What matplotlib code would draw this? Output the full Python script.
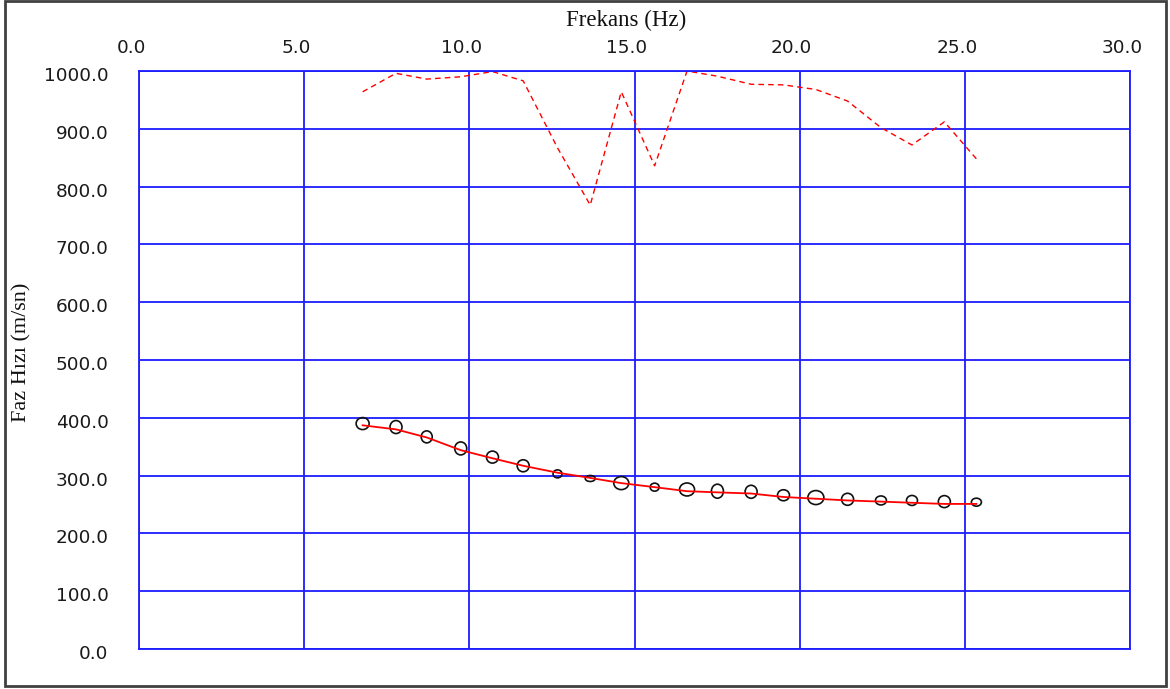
import matplotlib
matplotlib.use("Agg")
import matplotlib.pyplot as plt
from matplotlib.collections import EllipseCollection
from matplotlib.patches import Rectangle
from matplotlib.ticker import FormatStrFormatter, MultipleLocator
import matplotlib.transforms as mtransforms
import numpy as np

# Frequencies (Hz) of the picked dispersion points
freq = [6.77, 7.78, 8.71, 9.74, 10.70, 11.63, 12.67, 13.66, 14.60, 15.61,
        16.59, 17.51, 18.53, 19.51, 20.49, 21.45, 22.46, 23.40, 24.38, 25.35]

# Picked phase velocities (m/s)
picked_vel = [390, 384, 367, 347, 332, 317, 303, 295, 287, 280,
              276, 273, 272, 266, 262, 259, 257, 257, 255, 254]

# Fitted (model) phase velocity curve (m/s)
fit_vel = [387, 380, 366, 344, 330, 317, 305, 296, 287, 280,
           273, 271, 269, 263, 260, 257, 255, 253, 251, 251]

# Upper dashed curve (m/s)
upper_vel = [964, 996, 986, 990, 999, 983, 867, 768, 964, 836,
             1000, 991, 977, 976, 968, 948, 902, 872, 912, 848]

# Marker ellipse extents per pick (pixels)
mark_w = [13, 12, 11, 12, 12, 12, 9, 10, 15, 9, 15, 12, 12, 12, 16, 12, 11, 11, 12, 10]
mark_h = [12, 13, 12, 13, 12, 12, 8, 6, 13, 8, 13, 14, 13, 11, 14, 12, 9, 10, 12, 8]

W, H, DPI = 1170, 689, 100
fig = plt.figure(figsize=(W / DPI, H / DPI), dpi=DPI)
fig.patch.set_facecolor("white")

L, R, T, B = 139, 1130, 71, 649
ax = fig.add_axes([L / W, 1 - B / H, (R - L) / W, (B - T) / H])
ax.set_xlim(0, 30)
ax.set_ylim(0, 1000)

blue = "#1c1cff"
ax.xaxis.set_major_locator(MultipleLocator(5))
ax.yaxis.set_major_locator(MultipleLocator(100))
ax.grid(True, color=blue, linewidth=1.3)
ax.set_axisbelow(True)
for s in ax.spines.values():
    s.set_color(blue)
    s.set_linewidth(1.3)

ax.xaxis.tick_top()
ax.xaxis.set_label_position("top")
ax.xaxis.set_major_formatter(FormatStrFormatter("%.1f"))
ax.yaxis.set_major_formatter(FormatStrFormatter("%.1f"))
ax.tick_params(axis="both", length=0, labelsize=13.3, colors="#1a1a1a")
ax.tick_params(axis="x", pad=10)
ax.tick_params(axis="y", pad=22)
for lbl in ax.get_xticklabels():
    lbl.set_transform(lbl.get_transform() +
                      mtransforms.ScaledTranslation(-8 / DPI, 0, fig.dpi_scale_trans))
for lbl in ax.get_yticklabels():
    lbl.set_transform(lbl.get_transform() +
                      mtransforms.ScaledTranslation(0, -3 / DPI, fig.dpi_scale_trans))

# Upper dashed curve
ax.plot(freq, upper_vel, color="red", linewidth=1.0,
        linestyle=(0, (4, 3)), clip_on=False)

# Fitted curve
ax.plot(freq, fit_vel, color="red", linewidth=1.3)

# Picked points as open ellipses
ec = EllipseCollection(mark_w, mark_h, np.zeros(len(freq)), units="dots",
                       offsets=np.column_stack([freq, picked_vel]),
                       offset_transform=ax.transData,
                       facecolors="none", edgecolors="#111111", linewidths=1.2)
ax.add_collection(ec)

fig.text(626 / W, 1 - 20 / H, "Frekans (Hz)", ha="center", va="center",
         fontsize=16.5, family="Liberation Serif", color="#111111")
fig.text(22 / W, 1 - 352 / H, "Faz Hızı (m/sn)", ha="center", va="center",
         rotation=90, fontsize=16, family="Liberation Serif", color="#111111")

# Outer frame
fig.patches.append(Rectangle((5 / W, 1 - 686 / H), 1161 / W, 685 / H,
                             transform=fig.transFigure, fill=False,
                             edgecolor="#404040", linewidth=2))

fig.savefig("out.png", dpi=DPI)
